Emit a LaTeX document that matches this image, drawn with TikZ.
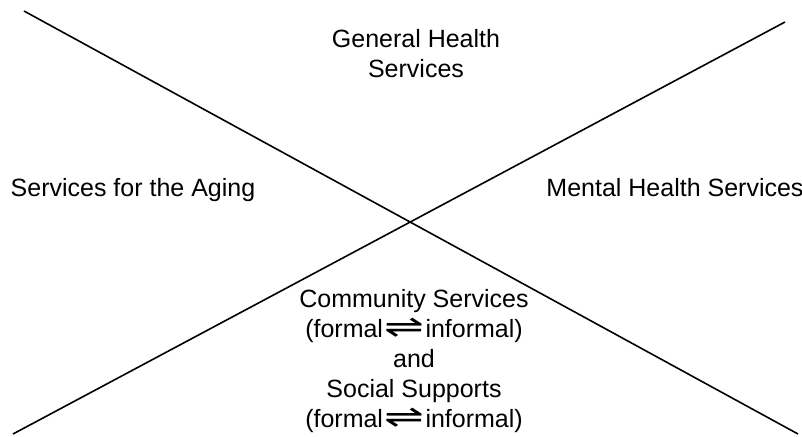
\documentclass[tikz,border=0pt]{standalone}
\usepackage{fontspec}
\setmainfont{Liberation Sans}
\newfontfamily\harpfont{DejaVu Sans}
\usepackage{graphicx}
\newcommand{\fmlinf}{(formal\kern1pt\scalebox{1.9}[1.25]{\harpfont ⇌}\kern1pt informal)}
\tikzset{lbl/.style={align=center, font=\fontsize{18.75}{22.5}\selectfont, inner sep=0pt}}
\begin{document}
\begin{tikzpicture}[x=0.75pt, y=-0.75pt]
			\useasboundingbox (0,0) rectangle (802,436);
			\coordinate (tl) at (24,11);
			\coordinate (br) at (798,434);
			\coordinate (bl) at (13,434);
			\coordinate (tr) at (785,22);
			\node[lbl] (g1) at (416,54) {General Health\\Services};
			\node[lbl] (a1) at (133,190) {Services for the Aging};
			\node[lbl] (m1) at (675,188) {Mental Health Services};
			\node[lbl] (c1) at (414,361) {Community Services\\\fmlinf\\and\\Social Supports\\\fmlinf};
			\draw[line width=1.2pt] (tl) -- (br);
			\draw[line width=1.2pt] (bl) -- (tr);
		\end{tikzpicture}
\end{document}
